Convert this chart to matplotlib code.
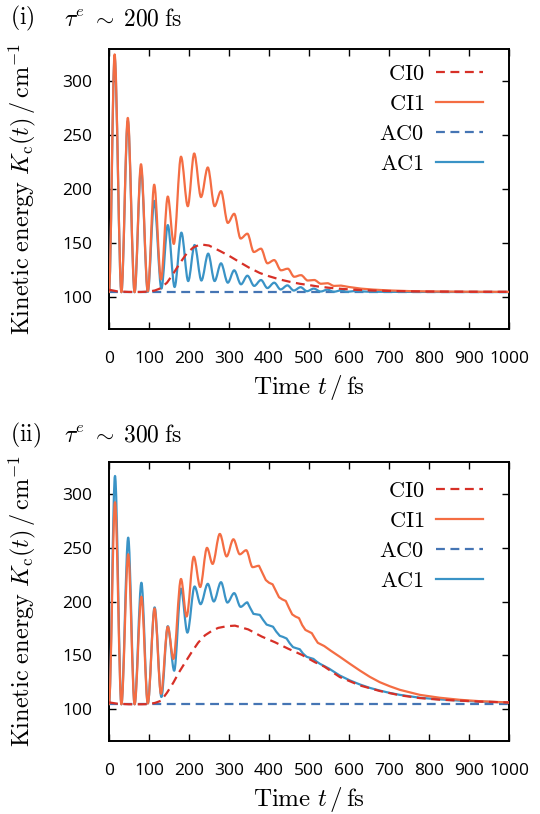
import matplotlib
matplotlib.use("Agg")
import matplotlib.pyplot as plt
from matplotlib.path import Path
from matplotlib.patches import PathPatch

plt.rcParams['mathtext.fontset'] = 'cm'

# ---------------- data (time in fs, kinetic energy in cm^-1) ----------------
xticks = [0, 100, 200, 300, 400, 500, 600, 700, 800, 900, 1000]
yticks = [100, 150, 200, 250, 300]
series_names = ['CI0', 'CI1', 'AC0', 'AC1']
panel_titles = [r'$\tau^e\;\sim\;200\;\mathrm{fs}$', r'$\tau^e\;\sim\;300\;\mathrm{fs}$']
panel_tags = [r'$\mathrm{(i)}$', r'$\mathrm{(ii)}$']

# Oscillating curves: successive turning points (troughs / peaks) read from the
# picture, followed by the smoother tail read point by point.

# panel (i)
p1_ci0 = [(0, 106.5), (20, 105), (50, 104.4), (80, 104.4), (100, 104.8), (115, 105.8),
          (127, 107.5), (145, 113), (160, 121), (177, 131), (194, 140), (210, 145.5),
          (228, 148.6), (250, 147.5), (277, 142.5), (300, 138), (327, 132), (350, 127),
          (377, 122), (400, 119), (427, 116), (450, 114), (477, 112), (500, 110.8),
          (520, 109.6), (550, 108.3), (580, 107.3), (620, 106.3), (660, 105.7),
          (700, 105.3), (750, 105), (800, 104.8), (900, 104.6), (1000, 104.5)]
p1_ci1_turns = [(0, 104.2), (14, 325), (31, 104.2), (47, 266), (64, 104.2), (80, 223),
                (97, 105), (113, 204), (130, 116), (147, 193), (162, 149), (180, 230),
                (197, 184), (213, 233), (230, 192.5), (247, 220), (264, 184), (280, 198),
                (297, 168.5), (313, 177), (329, 154), (346, 158.5), (362, 141.5),
                (380, 144.6), (396, 131), (413, 134), (430, 124.5), (447, 126),
                (463, 118.5), (480, 120), (497, 115), (513, 115.5), (530, 112),
                (546, 112.5), (563, 110), (580, 110.3)]
p1_ci1_tail = [(600, 109), (630, 107.5), (660, 106.6), (700, 105.8), (750, 105.2),
               (800, 104.9), (900, 104.6), (1000, 104.5)]
p1_ac0 = [(0, 104.2), (1000, 104.2)]
p1_ac1_turns = [(0, 104.2), (14, 322), (31, 104.2), (47, 263), (64, 104.2), (80, 219),
                (97, 104.5), (113, 189), (131, 107.5), (147, 166.5), (164, 109),
                (181, 159.5), (198, 114.5), (214, 148), (231, 115), (248, 140),
                (264, 114.5), (280, 131), (297, 113), (313, 124.5), (330, 111.5),
                (346, 119.5), (363, 110), (380, 115.5), (396, 108), (413, 113),
                (429, 106.7), (446, 110.5), (462, 105.7), (479, 108.8), (495, 105.1),
                (512, 107.5), (529, 104.8), (546, 106.5), (562, 104.6), (580, 105.8),
                (596, 104.5), (613, 105.2)]
p1_ac1_tail = [(650, 104.6), (700, 104.5), (800, 104.4), (1000, 104.3)]

# panel (ii)
p2_ci0 = [(0, 106), (20, 104.8), (50, 104.2), (80, 104.2), (100, 104.4), (115, 105.5),
          (130, 107.5), (145, 115), (161, 124.5), (175, 134), (190, 143), (207, 153),
          (223, 161.7), (240, 168.5), (257, 172.6), (273, 175.4), (295, 177), (315, 177.5),
          (348, 174), (382, 167.3), (415, 162), (448, 156), (482, 150.3), (515, 143.4),
          (538, 139.4), (577, 129.6), (627, 121.8), (677, 116.6), (727, 112.6), (777, 110),
          (827, 108.5), (877, 107.6), (927, 106.7), (1000, 105.9)]
p2_ci1_turns = [(0, 104.2), (15, 292.5), (31, 104.2), (48, 244), (64, 104.2), (81, 204.5),
                (97, 105), (114, 193.5), (130, 114), (147, 176.5), (161, 146.5),
                (180, 221), (194, 186), (212, 241.7), (228, 213.5), (245, 250),
                (259, 235), (277, 263), (294, 242), (311, 258), (327, 244), (343, 247.8),
                (359, 232), (375, 233.3)]
p2_ci1_tail = [(383, 227), (392, 220), (400, 217.5), (409, 216), (417, 210), (425, 204),
               (433, 202), (442, 200.5), (450, 194), (458, 188), (466, 186), (475, 184.5),
               (483, 178), (491, 173.5), (499, 172), (507, 170.5), (515, 165.5),
               (522, 161.5), (530, 160), (538, 158.5), (555, 154), (577, 148.5),
               (602, 142), (627, 135.7), (652, 129.8), (677, 124.8), (702, 121),
               (727, 117.7), (777, 113), (827, 110.3), (877, 108.4), (927, 107.1),
               (1000, 105.9)]
p2_ac0 = [(0, 104.2), (1000, 104.2)]
p2_ac1_turns = [(0, 104.2), (15, 317), (31, 104.2), (48, 259.5), (64, 104.2), (81, 217.5),
                (97, 105), (114, 194.5), (131, 111), (147, 177), (163, 135.5), (180, 212),
                (196, 171), (214, 214), (229, 197.5), (247, 216.5), (262, 200), (280, 218),
                (296, 199), (313, 207.8), (329, 195), (346, 199.2)]
p2_ac1_tail = [(353, 194), (361, 188.5), (369, 188), (377, 187.5), (385, 183), (394, 178.5),
               (402, 177.5), (410, 176.5), (418, 172), (427, 168), (435, 167), (444, 165.5),
               (452, 161), (460, 157.5), (468, 156.5), (477, 155.5), (485, 151.5),
               (494, 148.5), (502, 147.5), (511, 146.5), (519, 144), (527, 142),
               (550, 137.5), (577, 131), (602, 126.5), (627, 122.7), (652, 119.5),
               (677, 117), (702, 114.8), (727, 113), (777, 110.3), (827, 108.8),
               (877, 107.6), (927, 106.7), (1000, 105.9)]

panels = [
    {'CI0': (p1_ci0, []), 'CI1': (p1_ci1_turns, p1_ci1_tail),
     'AC0': (p1_ac0, []), 'AC1': (p1_ac1_turns, p1_ac1_tail)},
    {'CI0': (p2_ci0, []), 'CI1': (p2_ci1_turns, p2_ci1_tail),
     'AC0': (p2_ac0, []), 'AC1': (p2_ac1_turns, p2_ac1_tail)},
]
oscillating = {'CI1', 'AC1'}

# ---------------- styles ----------------
styles = {
    'CI0': dict(color='#d73027', ls=(0, (4, 2.5)), lw=1.6, zorder=5),
    'CI1': dict(color='#f46d43', ls='-', lw=1.6, zorder=4),
    'AC0': dict(color='#4575b4', ls=(0, (4, 2.5)), lw=1.6, zorder=2),
    'AC1': dict(color='#3a93c6', ls='-', lw=1.6, zorder=3),
}


def turning_path(turns, tail):
    """Smooth curve through turning points (zero slope at each), then a polyline tail."""
    verts = [turns[0]]
    codes = [Path.MOVETO]
    for (t0, v0), (t1, v1) in zip(turns[:-1], turns[1:]):
        d = (t1 - t0) / 3.0
        verts += [(t0 + d, v0), (t1 - d, v1), (t1, v1)]
        codes += [Path.CURVE4] * 3
    for p in tail:
        verts.append(p)
        codes.append(Path.LINETO)
    return Path(verts, codes)


W, H = 540, 814
fig = plt.figure(figsize=(W / 100, H / 100), dpi=100)
axes_px = [(109, 49, 509, 329), (109, 462, 509, 741)]  # left, top, right, bottom
tag_y = [18, 435]
leg_top = [64, 481]
tick_font = dict(family='Open Sans', size=12.5)

for i, (l, t, r, b) in enumerate(axes_px):
    ax = fig.add_axes([l / W, (H - b) / H, (r - l) / W, (b - t) / H])
    handles = {}
    for name in series_names:
        pts, tail = panels[i][name]
        st = styles[name]
        if name in oscillating:
            patch = PathPatch(turning_path(pts, tail), fill=False, edgecolor=st['color'],
                              lw=st['lw'], linestyle=st['ls'], zorder=st['zorder'],
                              joinstyle='round', capstyle='round')
            ax.add_patch(patch)
            h, = ax.plot([], [], color=st['color'], linestyle=st['ls'], lw=st['lw'])
        else:
            xs = [p[0] for p in pts]
            ys = [p[1] for p in pts]
            h, = ax.plot(xs, ys, color=st['color'], linestyle=st['ls'], lw=st['lw'],
                         zorder=st['zorder'], dash_capstyle='butt')
        handles[name] = h
    ax.set_xlim(0, 1000)
    ax.set_ylim(70, 330)
    ax.set_xticks(xticks)
    ax.set_yticks(yticks)
    ax.set_xticklabels([str(v) for v in xticks], fontdict=tick_font)
    ax.set_yticklabels([str(v) for v in yticks], fontdict=tick_font)
    ax.tick_params(direction='in', top=True, right=True, length=5, width=1.0,
                   color='black')
    ax.tick_params(axis='x', pad=16)
    ax.tick_params(axis='y', pad=12)
    for sp in ax.spines.values():
        sp.set_linewidth(1.4)
    ax.set_xlabel(r'$\mathrm{Time}\ t\,/\,\mathrm{fs}$', fontsize=18, labelpad=4)
    ax.set_ylabel(r'$\mathrm{Kinetic\ energy}\ K_{\mathrm{c}}(t)\,/\,\mathrm{cm}^{-1}$',
                  fontsize=17.5)
    ax.yaxis.set_label_coords(-(l - 38) / (r - l), 0.5)
    leg = ax.legend([handles[n] for n in series_names],
                    [r'$\mathrm{%s}$' % n for n in series_names],
                    loc='upper right', frameon=False, markerfirst=False,
                    fontsize=16, handlelength=2.1, handletextpad=0.55,
                    labelspacing=0.45, borderpad=0, borderaxespad=0,
                    bbox_to_anchor=((483 - l) / (r - l), (b - leg_top[i]) / (b - t)))
    fig.text(10 / W, 1 - tag_y[i] / H, panel_tags[i], fontsize=17, va='center', ha='left')
    fig.text(64 / W, 1 - tag_y[i] / H, panel_titles[i], fontsize=17, va='center', ha='left')

fig.savefig('out.png', dpi=100)
